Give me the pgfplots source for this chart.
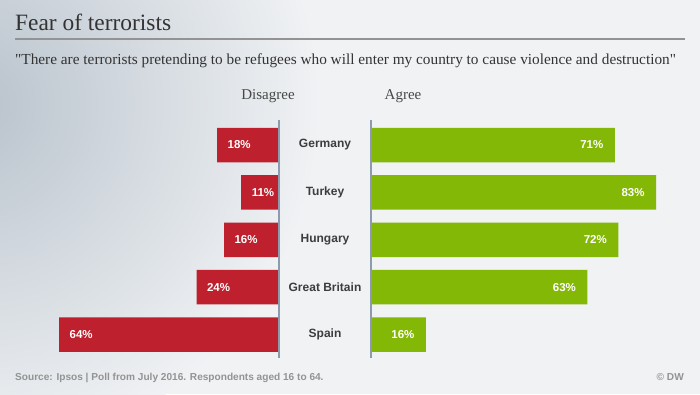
\documentclass[border=0pt]{standalone}
\usepackage{fontspec}
\setmainfont{Liberation Serif}
\setsansfont{Liberation Sans}
\usepackage{pgfplots}
\pgfplotsset{compat=1.18}
\definecolor{redbar}{HTML}{BE202E}
\definecolor{greenbar}{HTML}{84B807}
\definecolor{bgbase}{HTML}{F0F2F4}
\definecolor{bgdark}{HTML}{B8C2CC}
\definecolor{vline}{HTML}{8C9CAE}
\definecolor{txt}{HTML}{333333}
\begin{document}
\begin{tikzpicture}[x=1pt,y=1pt]
\path[use as bounding box] (0,0) rectangle (700,394);
\fill[bgbase] (0,0) rectangle (700,394);
\begin{scope}
\clip (0,0) rectangle (700,394);
\shade[inner color=bgdark, outer color=bgbase] (-30,290) circle (350);
\end{scope}
% title
\node[anchor=base west, inner sep=0, text=txt, font=\fontsize{23.4}{28}\selectfont] at (15,363) {Fear of terrorists};
\draw[color=gray!85, line width=1.3pt] (15,355) -- (685,355);
\node[anchor=base west, inner sep=0, text=txt, font=\fontsize{15.3}{18}\selectfont] at (15,329) {\textquotedbl There are terrorists pretending to be refugees who will enter my country to cause violence and destruction\textquotedbl};
\node[anchor=base, inner sep=0, text=txt!90, font=\fontsize{15}{18}\selectfont] at (268,294) {Disagree};
\node[anchor=base, inner sep=0, text=txt!90, font=\fontsize{15}{18}\selectfont] at (403,294) {Agree};
% left axis (disagree)
\begin{axis}[
  at={(279pt,36pt)}, anchor=south east,
  scale only axis, width=229pt, height=238pt,
  xmin=0, xmax=66.67, x dir=reverse,
  ymin=-0.528, ymax=4.496, y dir=reverse,
  hide axis, clip=false,
  xbar, bar width=34.5pt,
  /pgf/number format/assume math mode=true,
]
\addplot[fill=redbar, draw=none,
  nodes near coords={\pgfmathprintnumber{\pgfplotspointmeta}\%},
  point meta=x,
  every node near coord/.append style={anchor=west, xshift=7pt, text=white, font=\sffamily\bfseries\fontsize{11.5}{13}\selectfont}]
  coordinates {(18,0) (11,1) (16,2) (24,3) (64,4)};
\draw[vline, line width=1.2pt] (axis cs:0,-0.528) -- (axis cs:0,4.496);
\end{axis}
% right axis (agree)
\begin{axis}[
  at={(371pt,36pt)}, anchor=south west,
  scale only axis, width=329pt, height=238pt,
  xmin=0, xmax=95.78,
  ymin=-0.528, ymax=4.496, y dir=reverse,
  hide axis, clip=false,
  /pgf/number format/assume math mode=true,
]
\addplot[xbar, bar width=34.5pt, fill=greenbar, draw=none,
  nodes near coords={\pgfmathprintnumber{\pgfplotspointmeta}\%},
  point meta=x,
  every node near coord/.append style={anchor=east, xshift=-8pt, text=white, font=\sffamily\bfseries\fontsize{11.5}{13}\selectfont}]
  coordinates {(71,0) (83,1) (72,2) (63,3) (16,4)};
\addplot[draw=none, mark=none,
  nodes near coords, point meta=explicit symbolic,
  every node near coord/.append style={anchor=center, xshift=-46pt, text=txt!95, font=\sffamily\bfseries\fontsize{12}{14}\selectfont}]
  coordinates {(0,0) [Germany] (0,1) [Turkey] (0,2) [Hungary] (0,3) [Great Britain] (0,4) [Spain]};
\draw[vline, line width=1.2pt] (axis cs:0,-0.528) -- (axis cs:0,4.496);
\end{axis}
% footer
\node[anchor=base west, inner sep=0, text=gray!85, font=\sffamily\bfseries\fontsize{10.1}{12}\selectfont] at (15,14) {Source: Ipsos | Poll from July 2016. Respondents aged 16 to 64.};
\node[anchor=base east, inner sep=0, text=gray!85, font=\sffamily\bfseries\fontsize{10.1}{12}\selectfont] at (684,14) {© DW};
\end{tikzpicture}
\end{document}
